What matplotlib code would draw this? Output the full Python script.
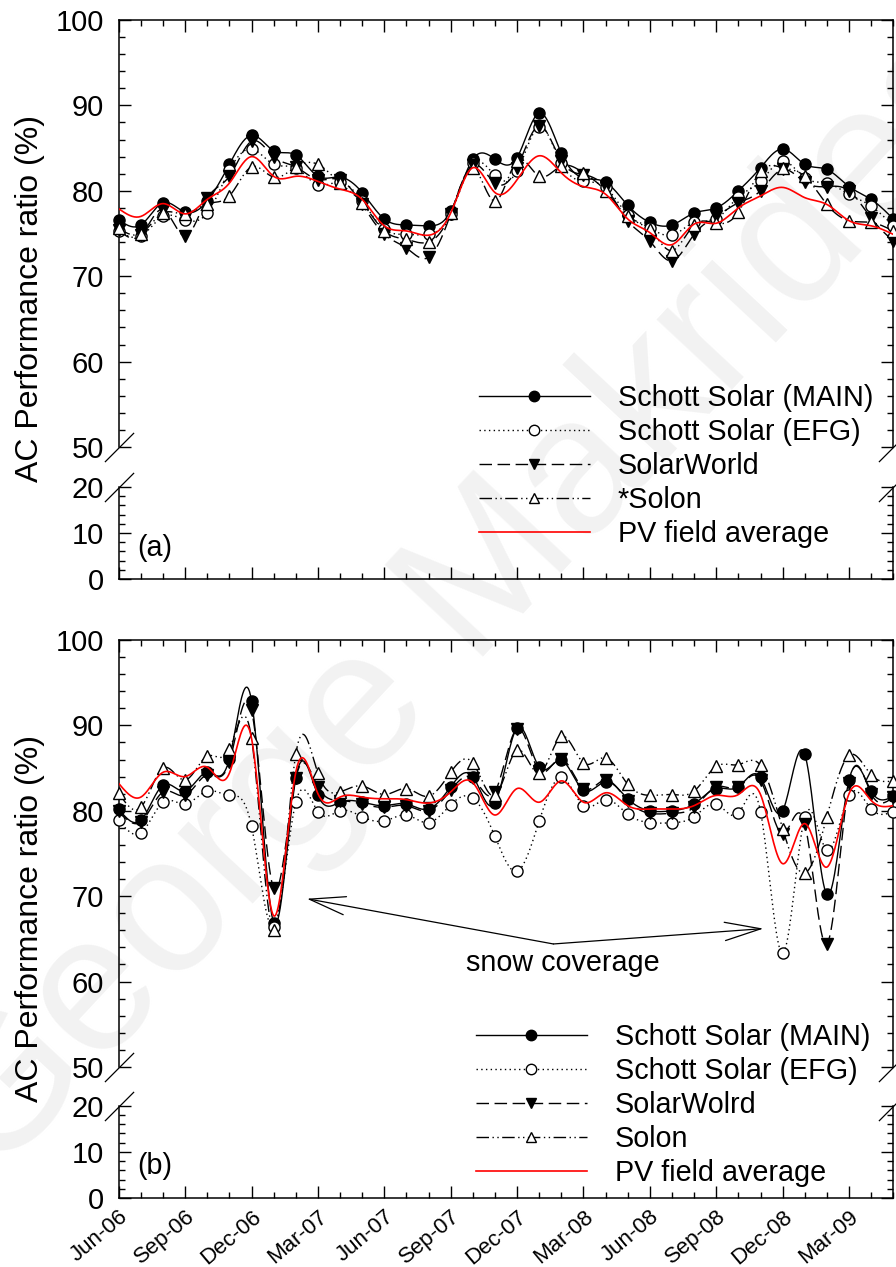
import numpy as np
import matplotlib
matplotlib.use("Agg")
import matplotlib.pyplot as plt
from matplotlib.lines import Line2D
from matplotlib.ticker import MultipleLocator

plt.rcParams['font.family'] = ['Liberation Sans', 'DejaVu Sans']

# monthly values, Jun-06 ... May-09
months = np.arange(36)
tick_labels = ["Jun-06", "Sep-06", "Dec-06", "Mar-07", "Jun-07", "Sep-07",
               "Dec-07", "Mar-08", "Jun-08", "Sep-08", "Dec-08", "Mar-09"]

# ----------------------------------------------------
# Panel (a)
# ----------------------------------------------------
a_main = [76.6, 76.0, 78.6, 77.5, 78.8, 83.1, 86.5, 84.7, 84.2, 81.7, 81.6, 79.8,
          76.7, 76.0, 75.9, 77.6, 83.7, 83.7, 83.9, 89.1, 84.4, 81.5, 81.0, 78.3,
          76.3, 76.0, 77.4, 78.0, 80.0, 82.7, 84.9, 83.1, 82.5, 80.5, 79.0, 76.7]
a_efg = [75.3, 74.7, 77.0, 76.6, 77.4, 82.4, 84.9, 83.1, 82.7, 80.7, 81.0, 78.8,
         75.5, 74.9, 74.9, 77.3, 83.2, 81.8, 82.3, 87.5, 83.2, 81.1, 80.4, 77.2,
         75.6, 74.8, 76.3, 76.7, 79.3, 81.1, 83.5, 81.5, 80.9, 79.6, 78.2, 75.9]
a_sw = [75.4, 74.8, 77.8, 74.7, 79.1, 81.7, 85.8, 84.0, 82.8, 81.3, 81.3, 78.4,
        74.9, 73.3, 72.2, 77.3, 83.0, 80.9, 82.7, 87.6, 83.5, 81.9, 80.4, 76.5,
        74.1, 71.8, 74.9, 77.0, 78.6, 80.0, 82.5, 81.0, 80.5, 80.0, 76.8, 74.1]
a_solon = [75.6, 75.0, 77.4, 77.3, 78.5, 79.4, 82.8, 81.6, 82.8, 83.1, 80.9, 78.6,
           75.3, 74.3, 74.0, 77.4, 82.7, 78.8, 83.5, 81.7, 82.9, 82.1, 80.0, 77.0,
           75.5, 73.0, 76.0, 76.2, 77.5, 82.3, 82.7, 81.7, 78.4, 76.5, 76.3, 75.3]
a_avg = [77.9, 77.0, 78.5, 77.3, 79.0, 80.9, 84.0, 81.7, 81.7, 81.1, 80.2, 79.0,
         75.9, 75.3, 74.8, 77.4, 82.7, 79.8, 81.3, 84.1, 82.1, 80.5, 79.6, 76.7,
         75.1, 73.7, 76.1, 76.2, 78.0, 79.4, 80.4, 79.2, 78.4, 76.5, 75.9, 74.9]
a_labels = ["Schott Solar (MAIN)", "Schott Solar (EFG)", "SolarWorld", "*Solon",
            "PV field average"]

# ----------------------------------------------------
# Panel (b)
# ----------------------------------------------------
b_main = [80.2, 78.9, 83.0, 82.3, 84.5, 86.1, 92.9, 66.9, 83.8, 81.8, 81.0, 81.0,
          80.6, 80.8, 80.2, 82.8, 84.0, 80.9, 89.7, 85.1, 85.9, 82.4, 83.4, 81.4,
          80.0, 80.0, 80.8, 82.6, 82.8, 83.9, 80.0, 86.6, 70.2, 83.6, 82.3, 81.7]
b_efg = [78.9, 77.4, 81.0, 80.8, 82.3, 81.8, 78.2, 66.4, 81.0, 79.9, 80.0, 79.3,
         78.8, 79.5, 78.6, 80.7, 81.5, 77.0, 72.9, 78.8, 83.9, 80.6, 81.3, 79.6,
         78.6, 78.6, 79.3, 80.8, 79.7, 79.9, 63.3, 79.3, 75.4, 81.8, 80.2, 79.9]
b_sw = [80.0, 78.7, 82.2, 81.8, 84.2, 85.7, 91.8, 70.9, 83.8, 82.8, 81.2, 80.8,
        80.4, 80.6, 80.0, 82.4, 83.8, 82.2, 89.6, 84.7, 86.1, 82.6, 83.6, 81.2,
        79.7, 79.7, 80.4, 82.8, 82.8, 83.6, 77.3, 78.5, 64.4, 83.2, 82.0, 81.6]
b_solon = [82.1, 80.4, 85.0, 83.6, 86.4, 87.2, 88.5, 66.0, 86.6, 84.4, 82.2, 82.9,
           81.9, 82.6, 81.7, 84.5, 85.6, 81.8, 87.1, 84.4, 88.7, 85.6, 86.2, 83.1,
           81.8, 81.9, 82.3, 85.2, 85.4, 85.3, 77.9, 72.7, 79.3, 86.5, 84.2, 83.5]
b_avg = [83.2, 81.6, 84.5, 84.0, 85.1, 84.4, 88.5, 67.7, 84.5, 82.0, 81.6, 81.6,
         81.4, 81.3, 80.9, 82.2, 83.3, 79.5, 82.6, 81.0, 83.5, 81.0, 82.1, 80.6,
         80.2, 80.2, 80.6, 81.8, 81.9, 81.9, 73.8, 78.5, 73.4, 82.0, 81.2, 80.6]
b_labels = ["Schott Solar (MAIN)", "Schott Solar (EFG)", "SolarWolrd", "Solon",
            "PV field average"]

styles = [
    dict(ls='-', marker='o', mfc='k'),
    dict(ls=(0, (1, 2.4)), marker='o', mfc='white'),
    dict(ls=(0, (9, 4)), marker='v', mfc='k'),
    dict(ls=(0, (9, 2.5, 1, 2.5, 1, 2.5)), marker='^', mfc='white'),
]


def spline(x, y, n=700):
    # natural cubic spline, used only to draw the smooth curves
    x = np.asarray(x, float)
    y = np.asarray(y, float)
    h = np.diff(x)
    k = len(x)
    A = np.zeros((k, k))
    r = np.zeros(k)
    A[0, 0] = A[-1, -1] = 1
    for i in range(1, k - 1):
        A[i, i - 1] = h[i - 1]
        A[i, i] = 2 * (h[i - 1] + h[i])
        A[i, i + 1] = h[i]
        r[i] = 3 * ((y[i + 1] - y[i]) / h[i] - (y[i] - y[i - 1]) / h[i - 1])
    c = np.linalg.solve(A, r)
    b = (y[1:] - y[:-1]) / h - h * (2 * c[:-1] + c[1:]) / 3
    d = (c[1:] - c[:-1]) / (3 * h)
    xs = np.linspace(x[0], x[-1], n)
    j = np.clip(np.searchsorted(x, xs, side='right') - 1, 0, k - 2)
    t = xs - x[j]
    return xs, y[j] + b[j] * t + c[j] * t ** 2 + d[j] * t ** 3


def setup_axes(top, bot, show_labels):
    for ax in (top, bot):
        ax.set_facecolor('none')
        ax.set_xlim(0, 35)
        ax.xaxis.set_major_locator(MultipleLocator(3))
        ax.xaxis.set_minor_locator(MultipleLocator(1))
        ax.yaxis.set_major_locator(MultipleLocator(10))
        ax.yaxis.set_minor_locator(MultipleLocator(2))
        ax.tick_params(which='both', direction='in', width=1.0, left=True,
                       right=True, labelsize=21)
        ax.tick_params(axis='y', pad=10.5)
        ax.tick_params(which='major', length=8.5)
        ax.tick_params(which='minor', length=4.5)
        for s in ax.spines.values():
            s.set_linewidth(1.1)
    top.set_ylim(50, 100)
    bot.set_ylim(0, 20)
    top.spines['bottom'].set_visible(False)
    bot.spines['top'].set_visible(False)
    top.tick_params(axis='x', which='both', bottom=False, top=True,
                    labelbottom=False)
    bot.tick_params(axis='x', which='both', bottom=True, top=False,
                    labelbottom=show_labels)
    if show_labels:
        bot.set_xticks(months[::3])
        bot.set_xticklabels(tick_labels, fontsize=16)
        plt.setp(bot.get_xticklabels(), rotation=40, ha='right', va='top',
                 rotation_mode='anchor')
        bot.tick_params(axis='x', pad=6)

    # break marks
    d = dict(marker=[(-1, -1), (1, 1)], markersize=21, ls='none', color='k',
             mec='k', mew=0.9, clip_on=False)
    top.plot([0, 1], [0, 0], transform=top.transAxes, **d)
    bot.plot([0, 1], [1, 1], transform=bot.transAxes, **d)


def draw_series(top, series, avg):
    for vals, st in zip(series, styles):
        xs, ys = spline(months, vals)
        top.plot(xs, ys, color='k', lw=1.0, ls=st['ls'], zorder=3)
        top.plot(months, vals, ls='none', marker=st['marker'], ms=8,
                 mfc=st['mfc'], mec='k', mew=1.0, zorder=4, clip_on=False)
    xs, ys = spline(months, avg)
    top.plot(xs, ys, color='red', lw=1.2, zorder=5)


def make_legend(fig, labels, anchor):
    handles = []
    for st in styles:
        handles.append(Line2D([], [], color='k', lw=1.0, ls=st['ls'],
                              marker=st['marker'], ms=7.5, mfc=st['mfc'],
                              mec='k', mew=1.0))
    handles.append(Line2D([], [], color='red', lw=1.2))
    fig.legend(handles, labels, loc='upper left', bbox_to_anchor=anchor,
               frameon=False, fontsize=20.7, handlelength=3.85,
               handletextpad=0.97, labelspacing=0.21, borderpad=0,
               borderaxespad=0, numpoints=1)


fig = plt.figure(figsize=(8.96, 12.67), dpi=100)

# watermark
fig.text(0.52, 0.525, "George Makrides", fontsize=140, color='#f2f2f2',
         rotation=47, ha='center', va='center', zorder=-1)

left, width = 0.1325, 0.8645
a_top = fig.add_axes([left, 0.6472, width, 0.3370])
a_bot = fig.add_axes([left, 0.5430, width, 0.0726])
b_top = fig.add_axes([left, 0.1579, width, 0.3370])
b_bot = fig.add_axes([left, 0.0545, width, 0.0728])

setup_axes(a_top, a_bot, False)
setup_axes(b_top, b_bot, True)

draw_series(a_top, [a_main, a_efg, a_sw, a_solon], a_avg)
draw_series(b_top, [b_main, b_efg, b_sw, b_solon], b_avg)

make_legend(fig, a_labels, (0.5346, 0.6970))
make_legend(fig, b_labels, (0.5313, 0.1926))

a_bot.text(0.024, 0.34, "(a)", transform=a_bot.transAxes, fontsize=20.7,
           va='center', ha='left')
b_bot.text(0.024, 0.35, "(b)", transform=b_bot.transAxes, fontsize=20.7,
           va='center', ha='left')

# snow coverage annotation
b_top.text(20.08, 62.2, "snow coverage", fontsize=20.7, ha='center',
           va='center')
for tip in [(8.5, 69.7), (29.13, 66.2)]:
    b_top.annotate("", xy=tip, xytext=(19.64, 64.4),
                   arrowprops=dict(arrowstyle='->, head_length=1.3, head_width=0.33',
                                   mutation_scale=20, lw=0.9, color='k',
                                   shrinkA=0, shrinkB=0))

fig.text(30 / 896, 1 - 298 / 1267, "AC Performance ratio (%)", fontsize=23,
         rotation=90, ha='center', va='center')
fig.text(30 / 896, 1 - 918 / 1267, "AC Performance ratio (%)", fontsize=23,
         rotation=90, ha='center', va='center')

fig.savefig("out.png", dpi=100)
